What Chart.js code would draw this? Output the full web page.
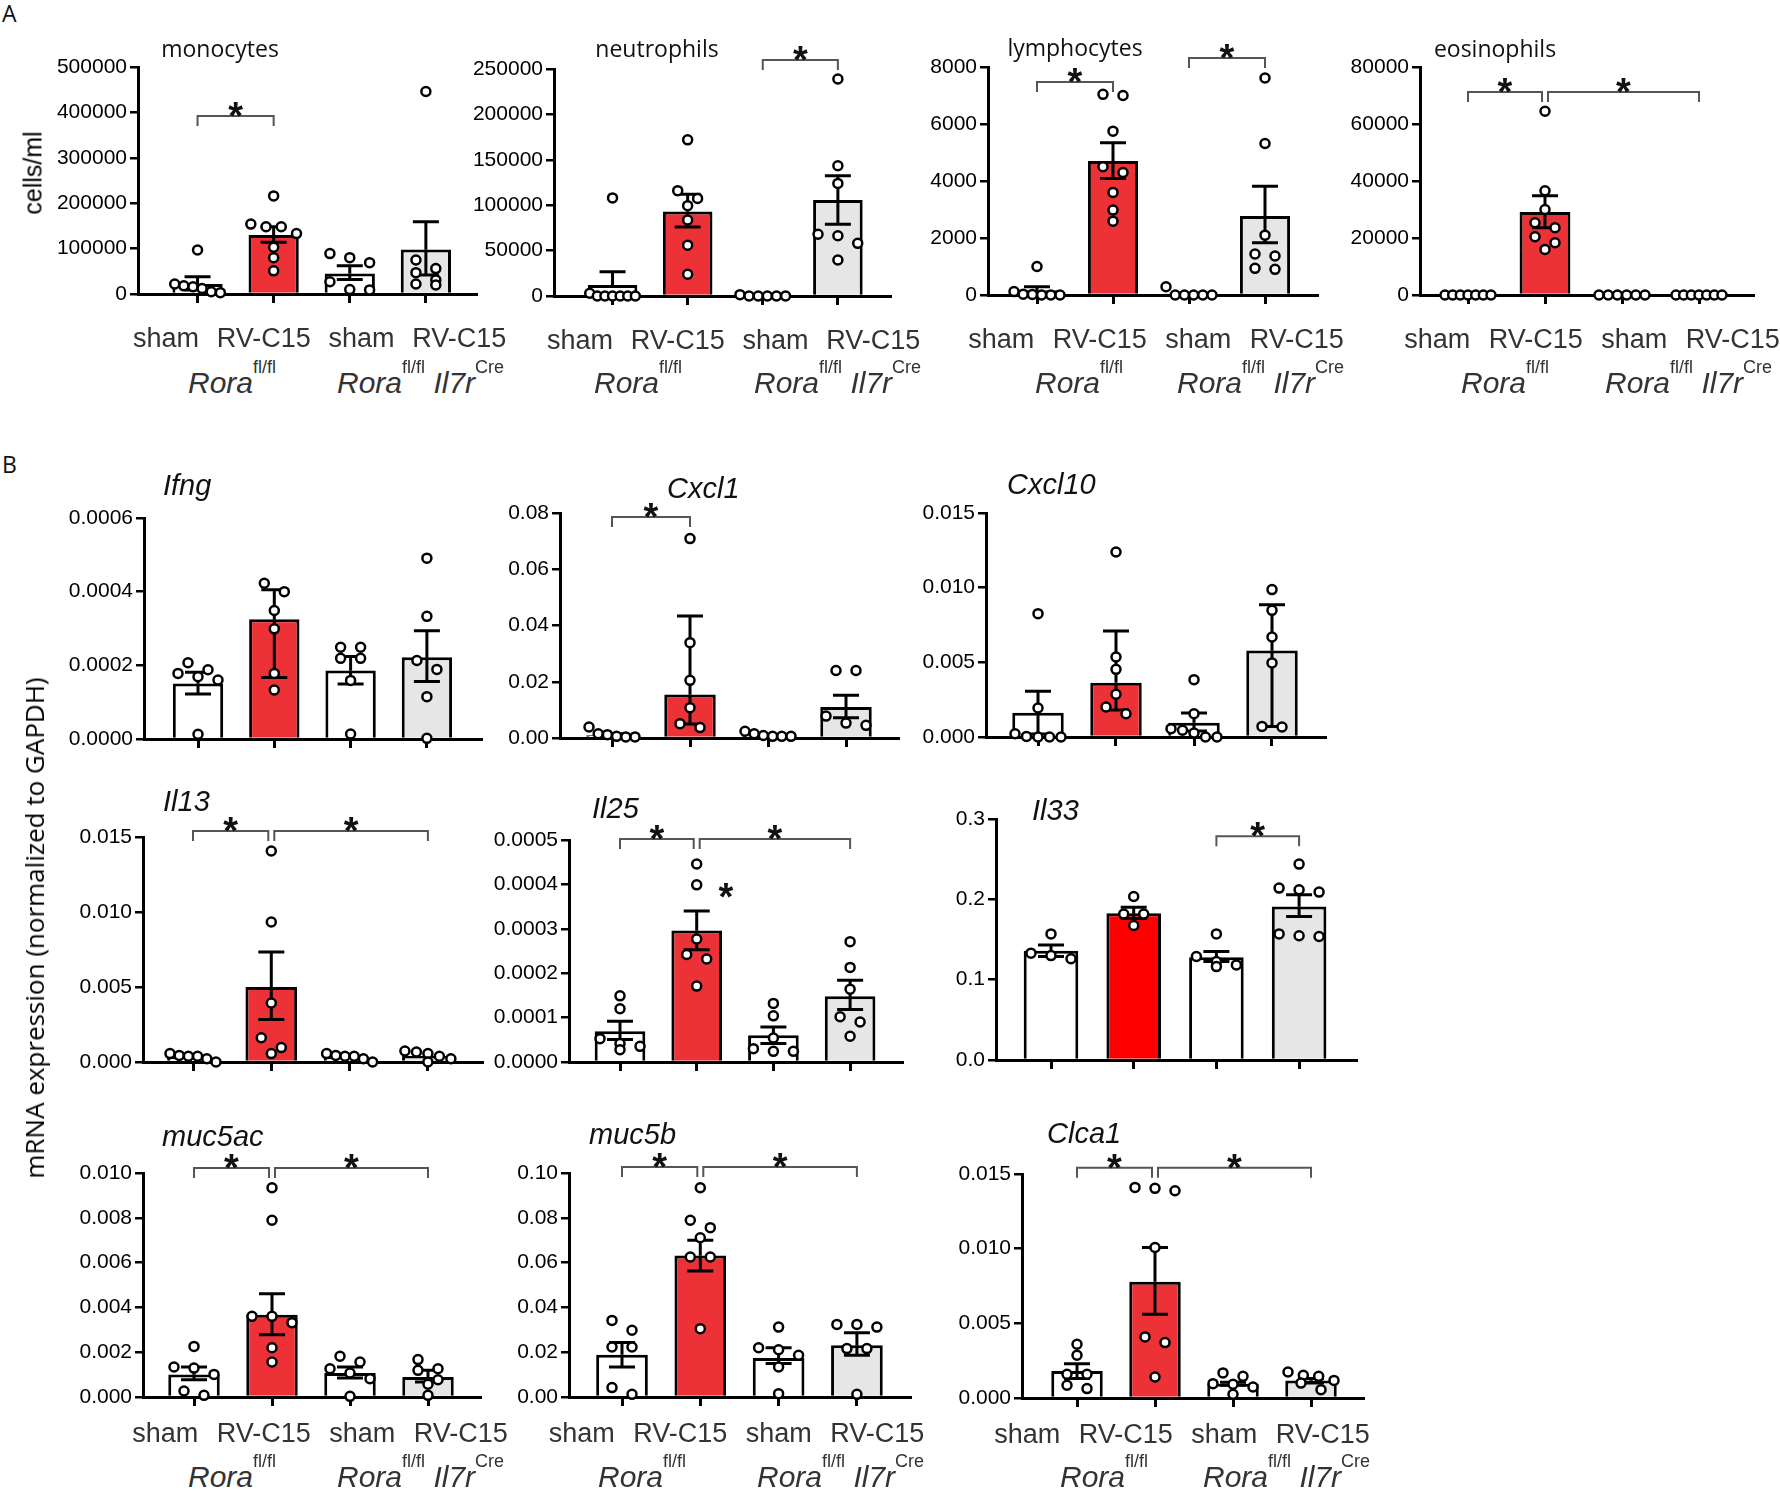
<!DOCTYPE html>
<html>
<head>
<meta charset="utf-8">
<script src="https://cdn.jsdelivr.net/npm/chart.js@4.4.1/dist/chart.umd.min.js"></script>
<style>
body { margin: 0; background: #fff; }
#fig { position: relative; width: 1780px; height: 1491px; overflow: hidden; font-family: 'Liberation Sans', Arial, sans-serif; }
#fig canvas { position: absolute; }
.lbl { position: absolute; white-space: nowrap; line-height: 1; }
.panel { font-family: 'Open Sans'; font-size: 23px; color: #111; }
.ttl { font-family: 'Open Sans'; font-size: 23px; color: #111; transform: translateX(-50%); }
.gene { font-style: italic; font-size: 29px; color: #111; }
.geno { font-size: 30px; color: #333; }
.geno sup { font-size: 18px; font-style: normal; vertical-align: baseline; position: relative; top: -20px; line-height: 1; }
.ytitle { transform: translate(-50%, -50%) rotate(-90deg); }
</style>
</head>
<body>
<div id="fig"></div>
<script>
// groupes et couleurs
const groups = ['sham', 'RV-C15', 'sham', 'RV-C15'];

// A - monocytes
const monoTicks = ['0', '100000', '200000', '300000', '400000', '500000'];
const monoMean = [22000, 130000, 45000, 98000];
const monoErr = [[9000, 38000], [114000, 148000], [32000, 62000], [42000, 159000]];
const monoPts = [
    [97000, 22000, 18000, 16000, 12000, 5000, 3000],
    [216000, 154000, 148000, 148000, 133000, 103000, 80000, 51000],
    [89000, 80000, 69000, 27000, 10000, 9000],
    [446000, 75000, 56000, 47000, 31000, 22000, 20000]
];
const monoSig = [[0, 1, 392000]];

// A - neutrophils
const neutTicks = ['0', '50000', '100000', '150000', '200000', '250000'];
const neutMean = [12100, 93000, 0, 105700];
const neutErr = [[null, 26800], [76000, 112000], null, [79000, 132500]];
const neutPts = [
    [108000, 3000, 0, 0, 0, 0, 0, 0],
    [172000, 116000, 107500, 99500, 83700, 56000, 24000],
    [1500, 0, 0, 0, 0, 0],
    [239000, 143500, 124000, 68000, 66400, 58000, 39600]
];
const neutSig = [[2, 3, 260000]];

// A - lymphocytes
const lymphTicks = ['0', '2000', '4000', '6000', '8000'];
const lymphMean = [170, 4700, 50, 2770];
const lymphErr = [[50, 290], [4090, 5340], null, [1830, 3820]];
const lymphPts = [
    [1000, 120, 30, 20, 0, 0, 0],
    [7040, 7000, 5750, 4500, 4300, 3600, 2980, 2590],
    [290, 0, 0, 0, 0, 0],
    [7615, 5315, 2100, 1440, 1370, 935, 900]
];
const lymphSig = [[0, 1, 7475], [2, 3, 8316]];

// A - eosinophils
const eosTicks = ['0', '20000', '40000', '60000', '80000'];
const eosMean = [0, 29080, 0, 0];
const eosErr = [null, [23600, 34800], null, null];
const eosPts = [
    [0, 0, 0, 0, 0, 0, 0],
    [64470, 36560, 30020, 25350, 23600, 20440, 18340, 16000],
    [0, 0, 0, 0, 0, 0],
    [0, 0, 0, 0, 0, 0, 0]
];
const eosSig = [[0, 1, 71250], [1, 3, 71250]];

// B - Ifng
const ifngTicks = ['0.0000', '0.0002', '0.0004', '0.0006'];
const ifngMean = [0.000151, 0.000325, 0.000186, 0.000222];
const ifngErr = [[0.000122, 0.000181], [0.000167, 0.000405], [0.000149, 0.000224], [0.000156, 0.000294]];
const ifngPts = [
    [0.000207, 0.000188, 0.000178, 0.000169, 0.000160, 0.0000127],
    [0.000423, 0.0004, 0.000349, 0.000299, 0.000178, 0.000133],
    [0.000249, 0.000249, 0.000219, 0.000219, 0.000159, 0.0000136],
    [0.000491, 0.000333, 0.000213, 0.000189, 0.000115, 0.0000018]
];
const ifngSig = [];

// B - Cxcl1
const cxcl1Ticks = ['0.00', '0.02', '0.04', '0.06', '0.08'];
const cxcl1Mean = [0.0010, 0.0155, 0.0011, 0.0110];
const cxcl1Err = [[0.0007, 0.0015], [0.005, 0.0434], null, [0.0072, 0.0152]];
const cxcl1Pts = [
    [0.0039, 0.0015, 0.0012, 0.0006, 0.0004, 0.0004],
    [0.0709, 0.0339, 0.0205, 0.0108, 0.0051, 0.0037],
    [0.0024, 0.0015, 0.0009, 0.0006, 0.0006, 0.0006],
    [0.024, 0.024, 0.0078, 0.0053, 0.0045]
];
const cxcl1Sig = [[0, 1, 0.0786]];

// B - Cxcl10
const cxcl10Ticks = ['0.000', '0.005', '0.010', '0.015'];
const cxcl10Mean = [0.00163, 0.00364, 0.00096, 0.0058];
const cxcl10Err = [[0.0002, 0.00306], [0.0018, 0.0071], [0.0004, 0.00161], [0.0007, 0.00886]];
const cxcl10Pts = [
    [0.00826, 0.00194, 0.00022, 0.00004, 0, 0, 0],
    [0.01239, 0.00536, 0.00453, 0.00286, 0.00201, 0.00156],
    [0.00384, 0.00156, 0.00056, 0.00045, 0.00027, 0, 0],
    [0.00987, 0.00848, 0.0067, 0.00496, 0.00071, 0.00067]
];
const cxcl10Sig = [];

// B - Il13
const il13Ticks = ['0.000', '0.005', '0.010', '0.015'];
const il13Mean = [0.0003, 0.0050, 0.0003, 0.0004];
const il13Err = [null, [0.00284, 0.00733], null, null];
const il13Pts = [
    [0.00056, 0.00044, 0.00038, 0.00038, 0.00022, 0],
    [0.01407, 0.00933, 0.00393, 0.00162, 0.00096, 0.00056],
    [0.00056, 0.00044, 0.00038, 0.00038, 0.00022, 0],
    [0.00073, 0.00067, 0.00056, 0.00038, 0.00022, 0]
];
const il13Sig = [[0, 1, 0.0154], [1, 3, 0.0154]];

// B - Il25
const il25Ticks = ['0.0000', '0.0001', '0.0002', '0.0003', '0.0004', '0.0005'];
const il25Mean = [0.0000692, 0.000296, 0.00006, 0.000148];
const il25Err = [[0.0000504, 0.0000917], [0.000253, 0.00034], [0.0000414, 0.000079], [0.000118, 0.000184]];
const il25Pts = [
    [0.000149, 0.00012, 0.0000526, 0.0000414, 0.0000353, 0.0000278],
    [0.000446, 0.000399, 0.000277, 0.000242, 0.000232, 0.000171],
    [0.000132, 0.000104, 0.0000541, 0.0000301, 0.000024, 0.000024],
    [0.000271, 0.000213, 0.000164, 0.000102, 0.0000902, 0.0000579]
];
const il25Sig = [[0, 1, 0.000502], [1, 3, 0.000502]];
const il25Star = [[1.38, 0.000392]];

// B - Il33
const il33Ticks = ['0.0', '0.1', '0.2', '0.3'];
const il33Mean = [0.1359, 0.1828, 0.128, 0.1911];
const il33Err = [[0.1288, 0.1433], [0.176, 0.190], [0.1226, 0.135], [0.1787, 0.2057]];
const il33Pts = [
    [0.157, 0.133, 0.130, 0.126],
    [0.2036, 0.1816, 0.1816, 0.1675],
    [0.157, 0.1288, 0.1226, 0.1184, 0.1163],
    [0.2439, 0.214, 0.212, 0.209, 0.157, 0.1546, 0.1537]
];
const il33Sig = [[2, 3, 0.2784]];

// B - muc5ac
const muc5acTicks = ['0.000', '0.002', '0.004', '0.006', '0.008', '0.010'];
const muc5acMean = [0.00101, 0.00367, 0.00107, 0.00089];
const muc5acErr = [[0.00077, 0.00134], [0.00278, 0.00461], [0.00085, 0.00134], [0.00067, 0.00119]];
const muc5acPts = [
    [0.00226, 0.00134, 0.00129, 0.00101, 0.00027, 0.0000744],
    [0.00934, 0.00789, 0.0036, 0.0036, 0.00332, 0.0022, 0.00156],
    [0.00182, 0.00156, 0.00126, 0.00107, 0.00082, 0.00003],
    [0.00167, 0.00126, 0.00119, 0.00077, 0.00057, 0.0000744]
];
const muc5acSig = [[0, 1, 0.01022], [1, 3, 0.01022]];

// B - muc5b
const muc5bTicks = ['0.00', '0.02', '0.04', '0.06', '0.08', '0.10'];
const muc5bMean = [0.0189, 0.0632, 0.0174, 0.0231];
const muc5bErr = [[0.0134, 0.0243], [0.0562, 0.070], [0.0149, 0.022], [0.0186, 0.0287]];
const muc5bPts = [
    [0.0342, 0.0298, 0.0223, 0.0223, 0.0042, 0.0012],
    [0.0934, 0.0789, 0.0756, 0.0711, 0.0625, 0.0625, 0.0305],
    [0.0312, 0.022, 0.0211, 0.0186, 0.0134, 0.0015],
    [0.0324, 0.0324, 0.0312, 0.0216, 0.0216, 0.0012]
];
const muc5bSig = [[0, 1, 0.1027], [1, 3, 0.1027]];

// B - Clca1
const clca1Ticks = ['0.000', '0.005', '0.010', '0.015'];
const clca1Mean = [0.00181, 0.00778, 0.00096, 0.00118];
const clca1Err = [[0.0013, 0.0023], [0.00561, 0.01008], [0.00085, 0.00105], [0.001, 0.0013]];
const clca1Pts = [
    [0.0036, 0.00286, 0.00159, 0.00159, 0.00085, 0.00063],
    [0.0141, 0.01404, 0.01388, 0.01008, 0.00409, 0.00371, 0.00141],
    [0.00168, 0.00145, 0.00096, 0.00092, 0.00074, 0.00025],
    [0.00174, 0.00152, 0.00145, 0.00118, 0.001, 0.00056]
];
const clca1Sig = [[0, 1, 0.01542], [1, 3, 0.01542]];

const RED = '#ec3237';
const GREY = '#e6e6e6';

// mise en page: [axe y, 1er groupe, pas, fin axe x, haut, bas]
// lab: [décalage du centre des libellés, espace au-dessous de l'axe]
const panels = [
    { ticks: monoTicks, mean: monoMean, err: monoErr, pts: monoPts, sig: monoSig, box: [138, 198, 76.7, 479, 67, 294], lab: [1, 20] },
    { ticks: neutTicks, mean: neutMean, err: neutErr, pts: neutPts, sig: neutSig, box: [554, 613, 75.7, 893, 69, 296], lab: [1.5, 20] },
    { ticks: lymphTicks, mean: lymphMean, err: lymphErr, pts: lymphPts, sig: lymphSig, box: [988, 1037, 76, 1317, 67, 295], lab: [-2, 20] },
    { ticks: eosTicks, mean: eosMean, err: eosErr, pts: eosPts, sig: eosSig, box: [1420, 1468, 77, 1753, 67, 295], lab: [1.5, 20] },
    { ticks: ifngTicks, mean: ifngMean, err: ifngErr, pts: ifngPts, sig: ifngSig, box: [144, 198, 76.3, 481, 518, 739] },
    { ticks: cxcl1Ticks, mean: cxcl1Mean, err: cxcl1Err, pts: cxcl1Pts, sig: cxcl1Sig, box: [560, 612, 78, 898, 513, 738] },
    { ticks: cxcl10Ticks, mean: cxcl10Mean, err: cxcl10Err, pts: cxcl10Pts, sig: cxcl10Sig, box: [986, 1038, 78, 1325, 513, 737] },
    { ticks: il13Ticks, mean: il13Mean, err: il13Err, pts: il13Pts, sig: il13Sig, box: [143, 193, 78.3, 482, 837, 1062] },
    { ticks: il25Ticks, mean: il25Mean, err: il25Err, pts: il25Pts, sig: il25Sig, stars: il25Star, box: [569, 620, 76.7, 902, 840, 1062] },
    { ticks: il33Ticks, mean: il33Mean, err: il33Err, pts: il33Pts, sig: il33Sig, box: [996, 1051, 82.7, 1356, 819, 1060], red: '#ff0000' },
    { ticks: muc5acTicks, mean: muc5acMean, err: muc5acErr, pts: muc5acPts, sig: muc5acSig, box: [143, 194, 78, 480, 1173, 1397], lab: [2, 12] },
    { ticks: muc5bTicks, mean: muc5bMean, err: muc5bErr, pts: muc5bPts, sig: muc5bSig, box: [569, 622, 78.3, 910, 1173, 1397], lab: [-10, 12] },
    { ticks: clca1Ticks, mean: clca1Mean, err: clca1Err, pts: clca1Pts, sig: clca1Sig, box: [1022, 1077, 78, 1363, 1174, 1398], lab: [-19, 12] }
];

const fig = document.getElementById('fig');

function label(html, cls, left, top) {
    let d = document.createElement('div');
    d.className = 'lbl ' + cls;
    d.innerHTML = html;
    d.style.left = left + 'px';
    d.style.top = top + 'px';
    fig.appendChild(d);
    return d;
}

// disposition des points façon GraphPad (rangées)
function swarm(vals, dUnit, sp) {
    let sorted = vals.slice().sort((a, b) => b - a);
    let rows = [];
    sorted.forEach(v => {
        let r = rows[rows.length - 1];
        if (r && r[0] - v < dUnit) r.push(v);
        else rows.push([v]);
    });
    let out = [];
    rows.forEach(r => {
        let n = r.length;
        let s = n > 1 ? Math.min(20, 46 / (n - 1)) : 0;
        r.forEach((v, j) => out.push({ dx: (j - (n - 1) / 2) * s / sp, y: v }));
    });
    return out;
}

function drawStar(ctx, cx, cy) {
    ctx.save();
    ctx.fillStyle = '#111';
    ctx.font = 'bold 38px "Liberation Sans", Arial';
    ctx.textAlign = 'center';
    ctx.textBaseline = 'alphabetic';
    ctx.fillText('*', cx, cy + 22);
    ctx.restore();
}

function makePanel(p) {
    const [x0, c0, sp, x1, yT, yB] = p.box;
    const PL = 110, PT = 70, PR = 50, PB = 62, TL = 9;
    const W = Math.round(x1 - x0 + PL + PR), H = Math.round(yB - yT + PT + PB);
    let cv = document.createElement('canvas');
    cv.width = W; cv.height = H;
    cv.style.left = (x0 - PL) + 'px';
    cv.style.top = (yT - PT) + 'px';
    cv.style.width = W + 'px';
    cv.style.height = H + 'px';
    fig.appendChild(cv);

    const xmin = -(c0 - x0) / sp;
    const xmax = 3 + (x1 - c0 - 3 * sp) / sp;
    const yVals = p.ticks.map(parseFloat);
    const ymax = yVals[yVals.length - 1];
    const dUnit = 10 * ymax / (yB - yT);

    let points = [];
    p.pts.forEach((vals, g) => {
        swarm(vals, dUnit, sp).forEach(o => points.push({ x: g + o.dx, y: o.y }));
    });
    const fills = ['#ffffff', p.red || RED, '#ffffff', GREY];

    const errPlugin = {
        id: 'errbars',
        beforeDatasetDraw(chart, args) {
            if (args.index !== 0) return;
            const ctx = chart.ctx, xs = chart.scales.x, ys = chart.scales.y;
            ctx.save();
            ctx.strokeStyle = '#000';
            ctx.lineWidth = 3;
            p.err.forEach((e, g) => {
                if (!e) return;
                let px = xs.getPixelForValue(g), pm = ys.getPixelForValue(p.mean[g]);
                e.forEach(v => {
                    if (v === null) return;
                    let py = ys.getPixelForValue(v);
                    ctx.beginPath();
                    ctx.moveTo(px, pm); ctx.lineTo(px, py);
                    ctx.moveTo(px - 13, py); ctx.lineTo(px + 13, py);
                    ctx.stroke();
                });
            });
            ctx.restore();
        }
    };

    const sigPlugin = {
        id: 'sigbars',
        afterDatasetsDraw(chart) {
            const ctx = chart.ctx, xs = chart.scales.x, ys = chart.scales.y;
            p.sig.forEach(s => {
                let xa = xs.getPixelForValue(s[0]), xb = xs.getPixelForValue(s[1]);
                if (p.sig.some(o => o !== s && o[1] === s[0])) xa += 3;
                if (p.sig.some(o => o !== s && o[0] === s[1])) xb -= 3;
                let py = ys.getPixelForValue(s[2]);
                ctx.save();
                ctx.strokeStyle = '#555';
                ctx.lineWidth = 2;
                ctx.beginPath();
                ctx.moveTo(xa, py + 10); ctx.lineTo(xa, py); ctx.lineTo(xb, py); ctx.lineTo(xb, py + 10);
                ctx.stroke();
                ctx.restore();
                drawStar(ctx, (xa + xb) / 2, py - 9);
            });
            (p.stars || []).forEach(s => drawStar(ctx, xs.getPixelForValue(s[0]), ys.getPixelForValue(s[1])));
        }
    };

    let scales = {
        x: {
            type: 'linear',
            weight: 0,
            min: xmin,
            max: xmax,
            offset: false,
            afterBuildTicks: s => { s.ticks = groups.map((g, i) => ({ value: i })); },
            afterFit: s => { s.height = p.lab ? TL : PB; },
            grid: { drawOnChartArea: false, drawTicks: true, tickLength: TL, color: '#000', lineWidth: 3, offset: false },
            border: { color: '#000', width: 3 },
            ticks: { display: false }
        },
        y: {
            min: 0,
            max: ymax,
            afterBuildTicks: s => { s.ticks = yVals.map(v => ({ value: v })); },
            afterFit: s => { s.width = PL; },
            grid: { drawOnChartArea: false, drawTicks: true, tickLength: 8, color: '#000', lineWidth: 2.5 },
            border: { color: '#000', width: 3 },
            ticks: {
                callback: (v, i) => p.ticks[i],
                font: { size: 21, family: '"Liberation Sans", Arial' },
                color: '#000',
                padding: 3,
                autoSkip: false
            }
        }
    };
    if (p.lab) {
        // libellés des groupes, espacés comme dans GraphPad
        scales.xl = {
            type: 'linear',
            position: 'bottom',
            weight: 1,
            min: xmin,
            max: xmax,
            offset: false,
            afterBuildTicks: s => { s.ticks = groups.map((g, i) => ({ value: 1.5 + (p.lab[0] + (i - 1.5) * 98.5) / sp })); },
            afterFit: s => { s.height = PB - TL; },
            grid: { display: false, drawTicks: false },
            border: { display: false },
            ticks: {
                callback: (v, i) => groups[i],
                font: { size: 27, family: '"Liberation Sans", Arial' },
                color: '#333',
                padding: p.lab[1],
                maxRotation: 0,
                autoSkip: false
            }
        };
    }

    new Chart(cv, {
        type: 'bar',
        data: {
            datasets: [{
                type: 'scatter',
                xAxisID: 'x',
                yAxisID: 'y',
                data: points,
                order: 0,
                pointRadius: 4.5,
                pointHoverRadius: 4.5,
                pointBorderWidth: 2.5,
                pointBackgroundColor: '#fff',
                pointBorderColor: '#000',
                clip: false
            }, {
                type: 'bar',
                xAxisID: 'x',
                yAxisID: 'y',
                data: p.mean.map((m, g) => ({ x: g, y: m })),
                order: 1,
                backgroundColor: fills,
                borderColor: '#000',
                borderWidth: 3,
                categoryPercentage: 0.66,
                barPercentage: 1
            }]
        },
        options: {
            responsive: false,
            animation: false,
            devicePixelRatio: 1,
            events: [],
            layout: { padding: { left: 0, top: PT, right: PR, bottom: 0 } },
            plugins: { legend: { display: false }, tooltip: { enabled: false } },
            scales: scales
        },
        plugins: [errPlugin, sigPlugin]
    });
}

panels.forEach(makePanel);

// textes
label('A', 'panel', 2, 2);
label('B', 'panel', 2, 453);

[['monocytes', 220, 37], ['neutrophils', 657, 37], ['lymphocytes', 1075, 36], ['eosinophils', 1495, 37]]
    .forEach(t => label(t[0], 'ttl', t[1], t[2]));

[['Ifng', 163, 495], ['Cxcl1', 667, 498], ['Cxcl10', 1007, 494],
 ['Il13', 163, 811], ['Il25', 592, 818], ['Il33', 1032, 820],
 ['muc5ac', 162, 1146], ['muc5b', 589, 1144], ['Clca1', 1047, 1143]]
    .forEach(t => label(t[0], 'gene', t[1], t[2] - 24.5));

const geno1 = '<i>Rora</i><sup>fl/fl</sup>';
const geno2 = '<i>Rora</i><sup>fl/fl</sup> <i>Il7r</i><sup>Cre</sup>';
[[188, 337, 368], [594, 754, 368], [1035, 1177, 368], [1461, 1605, 368],
 [188, 337, 1462], [598, 757, 1462], [1060, 1203, 1462]]
    .forEach(g => {
        label(geno1, 'geno', g[0], g[2]);
        label(geno2, 'geno', g[1], g[2]);
    });

let yt1 = label('cells/ml', 'ytitle', 33, 173);
yt1.style.fontSize = '25px';
let yt2 = label('mRNA expression (normalized to GAPDH)', 'ytitle', 34, 928);
yt2.style.fontSize = '26px';
yt2.style.fontFamily = "'Open Sans'";
</script>
</body>
</html>
